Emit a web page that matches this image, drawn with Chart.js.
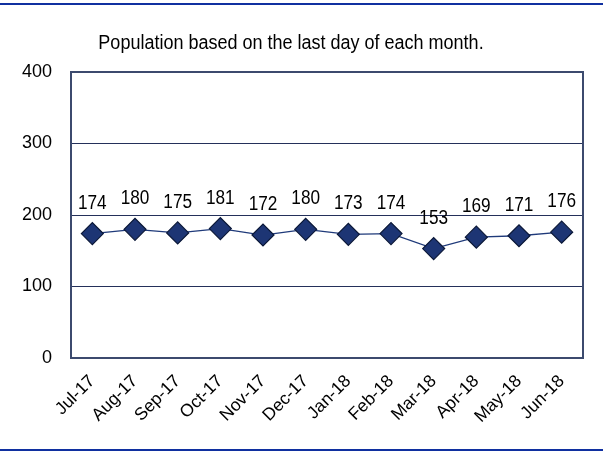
<!DOCTYPE html>
<html><head><meta charset="utf-8">
<script src="https://cdn.jsdelivr.net/npm/chart.js@4"></script>
<style>
html,body{margin:0;padding:0;background:#fff;}
#wrap{position:relative;width:603px;height:451px;}
#wrap:before{content:"";position:absolute;left:0;right:0;top:3px;height:2px;background:#1030a0;}
#wrap:after{content:"";position:absolute;left:0;right:0;top:449px;height:2px;background:#1030a0;}
canvas{position:absolute;left:0;top:0;}
</style></head>
<body><div id="wrap"><canvas id="c" width="603" height="451"></canvas></div>
<script>
const categories = ["Jul-17","Aug-17","Sep-17","Oct-17","Nov-17","Dec-17","Jan-18","Feb-18","Mar-18","Apr-18","May-18","Jun-18"];
const population = [174,180,175,181,172,180,173,174,153,169,171,176];
const yTicks = [0,100,200,300,400];
const titleText = "Population based on the last day of each month.";
const FONT = "'Liberation Sans', Arial, sans-serif";

function narrowText(ctx, text, x, y, sx){
  ctx.save();
  ctx.translate(x, y);
  ctx.scale(sx, 1);
  ctx.fillText(text, 0, 0);
  ctx.restore();
}

const deco = {
  id:'deco',
  beforeDatasetsDraw(chart){
    const {ctx, chartArea:a} = chart;
    ctx.save();
    ctx.strokeStyle = '#3c4a6e';
    ctx.lineWidth = 2;
    ctx.strokeRect(a.left, a.top, a.right-a.left, a.bottom-a.top);
    ctx.restore();
  },
  afterDatasetsDraw(chart){
    const {ctx} = chart;
    const meta = chart.getDatasetMeta(0);
    ctx.save();
    ctx.font = "20px " + FONT;
    ctx.fillStyle = '#000';
    ctx.textAlign = 'center';
    ctx.textBaseline = 'alphabetic';
    meta.data.forEach((p,i)=>{
      narrowText(ctx, String(population[i]), p.x, p.y - 25, 0.86);
    });
    ctx.font = "20px " + FONT;
    narrowText(ctx, titleText, 291, 49, 0.9);
    ctx.restore();
  }
};

new Chart(document.getElementById('c'), {
  type:'line',
  data:{labels:categories, datasets:[{
    data:population,
    borderColor:'#1f3a7a',
    borderWidth:1.3,
    pointStyle:'rectRot',
    pointRadius:11,
    pointHoverRadius:11,
    pointBackgroundColor:'#1d3574',
    pointBorderColor:'#0b1838',
    pointBorderWidth:1.2,
    tension:0
  }]},
  options:{
    responsive:false,
    animation:false,
    events:[],
    layout:{padding:{left:0,right:20,top:72,bottom:0}},
    plugins:{legend:{display:false},title:{display:false},tooltip:{enabled:false}},
    scales:{
      x:{
        offset:true,
        grid:{display:false,drawTicks:false},
        border:{display:false},
        ticks:{maxRotation:45,minRotation:45,padding:13,color:'#000',font:{family:FONT,size:17.5}},
        afterFit(s){s.height = 93;}
      },
      y:{
        min:0,max:400,
        afterBuildTicks(s){s.ticks = yTicks.map(v=>({value:v}));},
        grid:{color:'#24305a',lineWidth:1,drawTicks:false},
        border:{display:false},
        ticks:{padding:19,color:'#000',font:{family:FONT,size:18}},
        afterFit(s){s.width = 71;}
      }
    }
  },
  plugins:[deco]
});
</script></body></html>
